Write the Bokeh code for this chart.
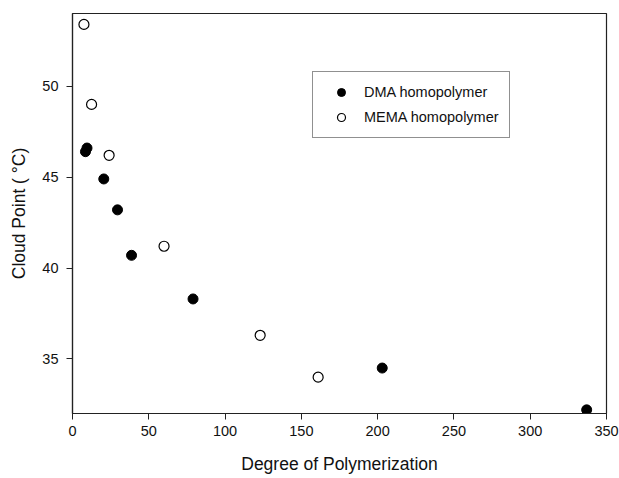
from bokeh.plotting import figure
from bokeh.models import Range1d, Legend, LegendItem, FixedTicker
from bokeh.embed import file_html
from bokeh.resources import INLINE

# Data
dma_dp = [8.5, 9.5, 20.5, 29.5, 38.7, 79, 203, 337]
dma_cp = [46.4, 46.6, 44.9, 43.2, 40.7, 38.3, 34.5, 32.2]
mema_dp = [7.5, 12.5, 24, 60, 123, 161]
mema_cp = [53.4, 49.0, 46.2, 41.2, 36.3, 34.0]

x_ticks = [0, 50, 100, 150, 200, 250, 300, 350]
y_ticks = [35, 40, 45, 50]
x_title = "Degree of Polymerization"
y_title = "Cloud Point ( °C)"

FONT = "Liberation Sans"

p = figure(width=619, height=478, output_backend="svg", toolbar_location=None,
           x_range=Range1d(0, 350), y_range=Range1d(32, 54),
           min_border_left=72, min_border_right=13, min_border_top=13, min_border_bottom=65)
p.background_fill_color = "white"
p.border_fill_color = "white"
p.outline_line_color = "#222222"
p.outline_line_width = 1.2
p.xgrid.visible = False
p.ygrid.visible = False

for ax in (p.xaxis[0], p.yaxis[0]):
    ax.axis_line_color = "#222222"
    ax.axis_line_width = 1.2
    ax.major_tick_line_color = "#222222"
    ax.major_tick_out = 6
    ax.major_tick_in = 0
    ax.minor_tick_line_color = None
    ax.major_label_text_font = FONT
    ax.major_label_text_font_size = "14.5px"
    ax.major_label_text_color = "#111111"
    ax.axis_label_text_font = FONT
    ax.axis_label_text_font_size = "17.5px"
    ax.axis_label_text_font_style = "normal"
    ax.axis_label_text_color = "#111111"

p.xaxis.ticker = FixedTicker(ticks=x_ticks)
p.yaxis.ticker = FixedTicker(ticks=y_ticks)
p.xaxis.axis_label = x_title
p.yaxis.axis_label = y_title
p.xaxis.major_label_standoff = 6
p.yaxis.major_label_standoff = 8
p.xaxis.axis_label_standoff = 15
p.yaxis.axis_label_standoff = 10

r_dma = p.scatter(dma_dp, dma_cp, marker="circle", size=10,
                  fill_color="black", line_color="black")
r_mema = p.scatter(mema_dp, mema_cp, marker="circle", size=10,
                   fill_color="white", line_color="black", line_width=1.2)

legend = Legend(items=[LegendItem(label="DMA homopolymer", renderers=[r_dma]),
                       LegendItem(label="MEMA homopolymer", renderers=[r_mema])],
                location=(240, 275))
legend.label_text_font = FONT
legend.label_text_font_size = "14.5px"
legend.label_text_color = "#111111"
legend.glyph_width = 36
legend.glyph_height = 20
legend.label_height = 20
legend.label_standoff = 5
legend.spacing = 5
legend.padding = 10
legend.margin = 0
legend.border_line_color = "#222222"
legend.border_line_width = 1.2
legend.background_fill_alpha = 1.0
p.add_layout(legend)

open("out.html", "w").write(file_html(p, INLINE))
